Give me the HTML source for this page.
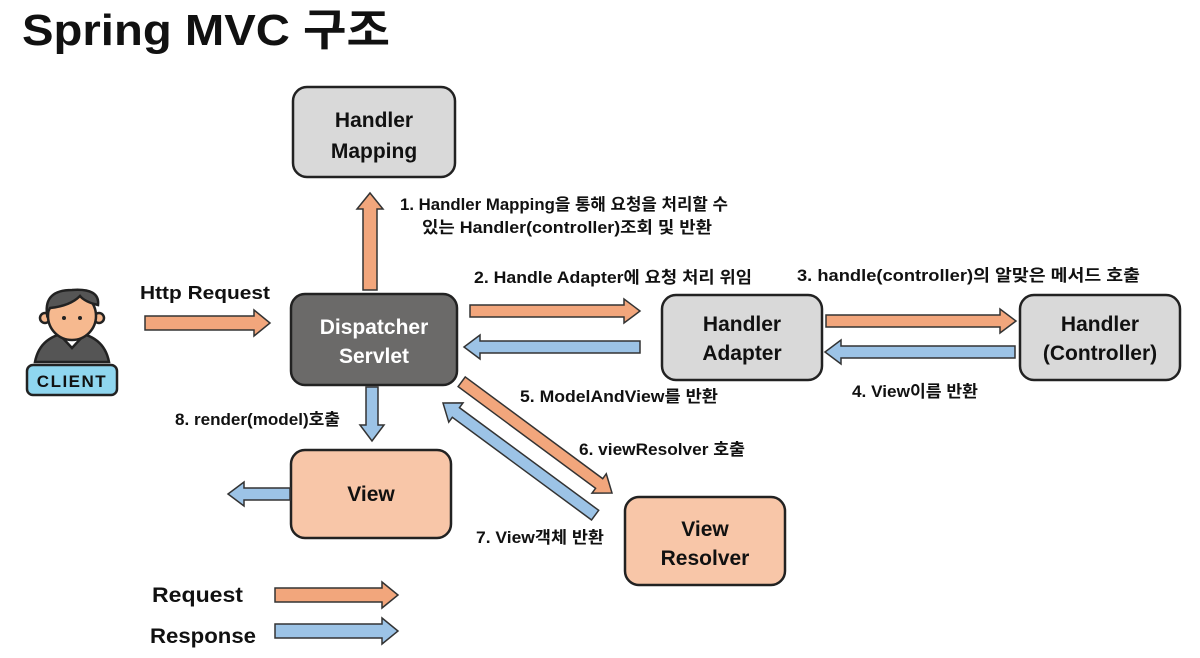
<!DOCTYPE html>
<html><head><meta charset="utf-8"><style>
html,body{margin:0;padding:0;background:#fff}
svg{display:block}
text{font-family:"Liberation Sans","Noto Sans CJK KR",sans-serif;font-weight:bold;fill:#111}
.box{stroke:#222;stroke-width:2.5}
.o{fill:#f2a67c;stroke:#333;stroke-width:1.5}
.b{fill:#9cc3e6;stroke:#333;stroke-width:1.5}
</style></head><body>
<svg width="1200" height="658" viewBox="0 0 1200 658">
<text x="22" y="45" font-size="44" textLength="368" lengthAdjust="spacingAndGlyphs">Spring MVC 구조</text>

<rect class="box" x="293" y="87" width="162" height="90" rx="14" fill="#d9d9d9"/>
<text x="374" y="127" font-size="21" text-anchor="middle">Handler</text>
<text x="374" y="158" font-size="21" text-anchor="middle">Mapping</text>

<rect class="box" x="291" y="294" width="166" height="91" rx="14" fill="#6b6a69"/>
<text x="374" y="334" font-size="21" text-anchor="middle" style="fill:#fff">Dispatcher</text>
<text x="374" y="363" font-size="21" text-anchor="middle" style="fill:#fff">Servlet</text>

<rect class="box" x="662" y="295" width="160" height="85" rx="14" fill="#d9d9d9"/>
<text x="742" y="331" font-size="21" text-anchor="middle">Handler</text>
<text x="742" y="360" font-size="21" text-anchor="middle">Adapter</text>

<rect class="box" x="1020" y="295" width="160" height="85" rx="14" fill="#d9d9d9"/>
<text x="1100" y="331" font-size="21" text-anchor="middle">Handler</text>
<text x="1100" y="360" font-size="21" text-anchor="middle">(Controller)</text>

<rect class="box" x="291" y="450" width="160" height="88" rx="14" fill="#f8c6a8"/>
<text x="371" y="501" font-size="21" text-anchor="middle">View</text>

<rect class="box" x="625" y="497" width="160" height="88" rx="14" fill="#f8c6a8"/>
<text x="705" y="536" font-size="21" text-anchor="middle">View</text>
<text x="705" y="565" font-size="21" text-anchor="middle">Resolver</text>

<g transform="translate(270,323)"><polygon class="o" points="-125,-7 -16,-7 -16,-13 0,0 -16,13 -16,7 -125,7"/></g>
<g transform="translate(370,193) rotate(-90)"><polygon class="o" points="-97,-7 -16,-7 -16,-13 0,0 -16,13 -16,7 -97,7"/></g>
<g transform="translate(640,311)"><polygon class="o" points="-170,-6 -16,-6 -16,-12 0,0 -16,12 -16,6 -170,6"/></g>
<g transform="translate(464,347) rotate(180)"><polygon class="b" points="-176,-6 -16,-6 -16,-12 0,0 -16,12 -16,6 -176,6"/></g>
<g transform="translate(1016,321)"><polygon class="o" points="-190,-6 -16,-6 -16,-12 0,0 -16,12 -16,6 -190,6"/></g>
<g transform="translate(825,352) rotate(180)"><polygon class="b" points="-190,-6 -16,-6 -16,-12 0,0 -16,12 -16,6 -190,6"/></g>
<g transform="translate(372,441) rotate(90)"><polygon class="b" points="-54,-6 -16,-6 -16,-12 0,0 -16,12 -16,6 -54,6"/></g>
<g transform="translate(228,494) rotate(180)"><polygon class="b" points="-62,-6 -16,-6 -16,-12 0,0 -16,12 -16,6 -62,6"/></g>
<g transform="translate(612,493) rotate(36.5)"><polygon class="o" points="-187,-6 -16,-6 -16,-12 0,0 -16,12 -16,6 -187,6"/></g>
<g transform="translate(443,403) rotate(216.4)"><polygon class="b" points="-189,-6 -16,-6 -16,-12 0,0 -16,12 -16,6 -189,6"/></g>
<g transform="translate(398,595)"><polygon class="o" points="-123,-7 -16,-7 -16,-13 0,0 -16,13 -16,7 -123,7"/></g>
<g transform="translate(398,631)"><polygon class="b" points="-123,-7 -16,-7 -16,-13 0,0 -16,13 -16,7 -123,7"/></g>
<text x="152" y="602" font-size="21" textLength="91" lengthAdjust="spacingAndGlyphs">Request</text>
<text x="150" y="643" font-size="21" textLength="106" lengthAdjust="spacingAndGlyphs">Response</text>

<text x="140" y="299" font-size="18" textLength="130" lengthAdjust="spacingAndGlyphs">Http Request</text>
<text x="400" y="210" font-size="16.5" textLength="328" lengthAdjust="spacingAndGlyphs">1. Handler Mapping을 통해 요청을 처리할 수</text>
<text x="422" y="233" font-size="16.5" textLength="290" lengthAdjust="spacingAndGlyphs">있는 Handler(controller)조회 및 반환</text>
<text x="474" y="283" font-size="16.5" textLength="278" lengthAdjust="spacingAndGlyphs">2. Handle Adapter에 요청 처리 위임</text>
<text x="797" y="281" font-size="16.5" textLength="343" lengthAdjust="spacingAndGlyphs">3. handle(controller)의 알맞은 메서드 호출</text>
<text x="852" y="397" font-size="16.5" textLength="126" lengthAdjust="spacingAndGlyphs">4. View이름 반환</text>
<text x="520" y="402" font-size="16.5" textLength="198" lengthAdjust="spacingAndGlyphs">5. ModelAndView를 반환</text>
<text x="579" y="455" font-size="16.5" textLength="166" lengthAdjust="spacingAndGlyphs">6. viewResolver 호출</text>
<text x="476" y="543" font-size="16.5" textLength="128" lengthAdjust="spacingAndGlyphs">7. View객체 반환</text>
<text x="175" y="425" font-size="16.5" textLength="165" lengthAdjust="spacingAndGlyphs">8. render(model)호출</text>

<g stroke="#222" stroke-width="2.5">
<path d="M35,362 Q40,335 72,332 Q104,335 109,362 Z" fill="#555"/>
<path d="M60,335 L72,348 L84,335 Z" fill="#fff"/>
<circle cx="45" cy="318" r="5" fill="#f6b98f"/>
<circle cx="99" cy="318" r="5" fill="#f6b98f"/>
<ellipse cx="72" cy="316" rx="24" ry="24" fill="#f6b98f"/>
<path d="M47,314 Q44,290 72,290 Q100,288 98,305 Q85,302 80,296 Q70,306 50,308 Z" fill="#555"/>
<rect x="27" y="365" width="90" height="30" rx="6" fill="#8fd6ef"/>
</g>
<circle cx="64" cy="318" r="2" fill="#222"/><circle cx="80" cy="318" r="2" fill="#222"/>
<text x="72" y="387" font-size="17" text-anchor="middle" letter-spacing="1.5">CLIENT</text>
</svg>
</body></html>
